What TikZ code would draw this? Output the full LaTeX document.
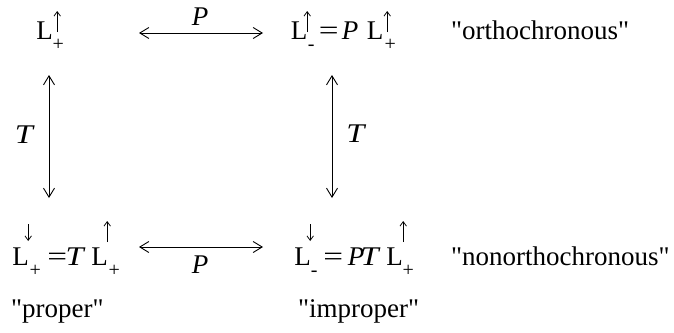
\documentclass[tikz,border=0pt]{standalone}
\usepackage{graphicx}
\usepackage{fontspec}
\setmainfont{Liberation Serif}[Ligatures=TeXOff]
\usetikzlibrary{arrows.meta}

\tikzset{
  uptip/.style={-{Straight Barb[length=4.5pt,width=6.5pt]}},
  downtip/.style={{Straight Barb[length=4.5pt,width=6.5pt]}-},
  biarrow/.style={line width=0.9pt,{Straight Barb[length=9pt,width=11pt]}-{Straight Barb[length=9pt,width=11pt]}},
  txt/.style={inner sep=0pt,font=\fontsize{27}{31}\selectfont},
  formula/.style={txt,anchor=base west},
  lbl/.style={inner sep=0pt,anchor=base,font=\fontsize{27}{31}\selectfont\itshape},
}
\newcommand\subsz{\fontsize{20}{20}\selectfont}
\newcommand\cbox[1]{\hbox to 0pt{\hss#1\hss}}
% glyph centred at x (pt from node origin)
\newcommand\pc[2]{\rlap{\kern#1pt\cbox{#2}}}
% subscript centred at x
\newcommand\sbx[2]{\pc{#1}{\raisebox{-11.5pt}{\subsz #2}}}
% small vertical arrow at x, from y1 to y2 above baseline
\newcommand\arx[4]{\rlap{\kern#1pt\tikz[baseline=0pt,overlay,x=1pt,y=1pt]\draw[line width=0.75pt,#2](0,#3)--(0,#4);}}
\newcommand\eqs{\scalebox{1.3}[1]{=}}
\newcommand\Ti{\scalebox{1.2}[1]{\textit{T}}}

\begin{document}
\begin{tikzpicture}[x=1pt,y=-1pt]
\useasboundingbox (0,0) rectangle (674,332);
% formulas
\node[formula] (A) at (37,39) {\makebox[26pt][l]{\pc{7.5}{L}\arx{20}{uptip}{7}{28}\sbx{21}{+}}};
\node[formula] (B) at (292,39) {\makebox[103pt][l]{\pc{7}{L}\arx{15}{uptip}{7}{28}\sbx{19}{-}\pc{36.5}{\eqs}\pc{58}{\textit{P}}\pc{83}{L}\arx{95}{uptip}{7}{28}\sbx{98}{+}}};
\node[formula] (D) at (13,265) {\makebox[107pt][l]{\pc{7.5}{L}\arx{15}{downtip}{24}{41}\sbx{22}{+}\pc{44}{\eqs}\pc{62.3}{\Ti}\pc{86.5}{L}\arx{94}{uptip}{23}{44}\sbx{101}{+}}};
\node[formula] (E) at (295,265) {\makebox[118pt][l]{\pc{7.5}{L}\arx{15}{downtip}{24}{41}\sbx{19}{-}\pc{38}{\eqs}\pc{61}{\textit{P}}\pc{75.3}{\Ti}\pc{99.5}{L}\arx{108}{uptip}{23}{44}\sbx{113}{+}}};
% words
\node[txt,anchor=base west] (orth) at (451,39) {"orthochronous"};
\node[txt,anchor=base west] (nonorth) at (451,265) {"nonorthochronous"};
\node[txt,anchor=base west] (prop) at (11,317) {"proper"};
\node[txt,anchor=base west] (improp) at (298,317) {"improper"};
% connectors
\coordinate (ptl) at (139,33);
\coordinate (ptr) at (263,33);
\coordinate (pbl) at (139,247);
\coordinate (pbr) at (263,247);
\coordinate (tlt) at (49,75);
\coordinate (tlb) at (49,198);
\coordinate (trt) at (332,75);
\coordinate (trb) at (332,198);
\draw[biarrow] (ptl) -- (ptr);
\draw[biarrow] (pbl) -- (pbr);
\draw[biarrow] (tlt) -- (tlb);
\draw[biarrow] (trt) -- (trb);
% labels
\node[lbl] (Ptop) at (200,25) {P};
\node[lbl] (Pbot) at (200,273) {P};
\node[lbl] (Tl) at (23.8,143) {\Ti};
\node[lbl] (Tr) at (355.3,142) {\Ti};
\end{tikzpicture}
\end{document}
